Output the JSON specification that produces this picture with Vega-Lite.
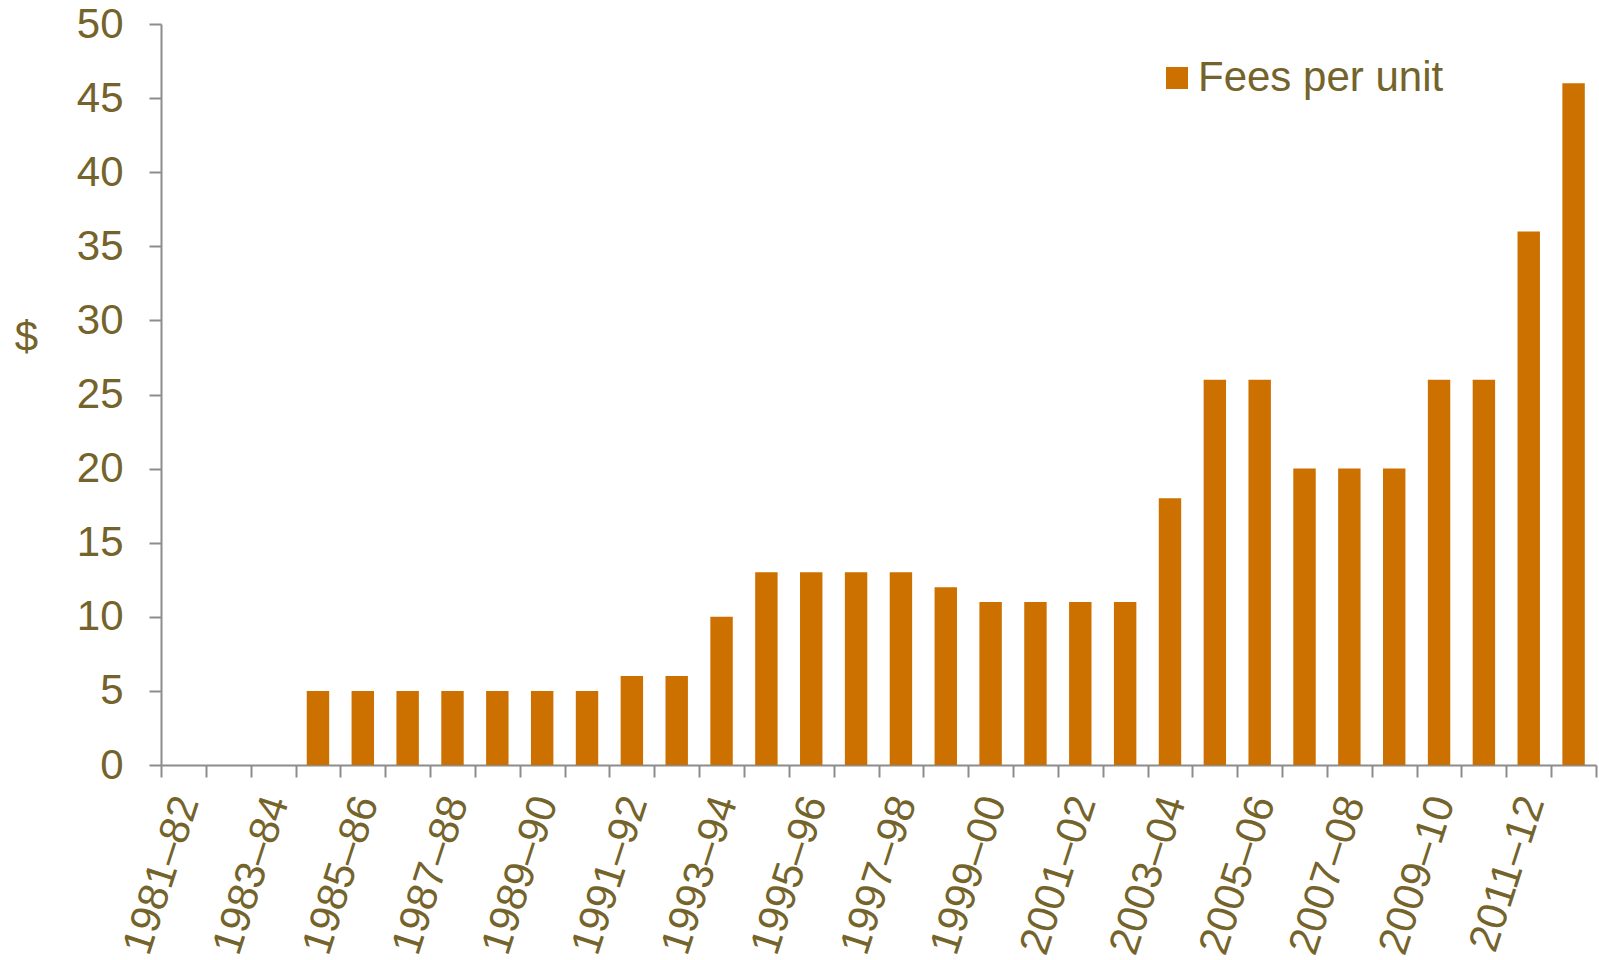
{
  "$schema": "https://vega.github.io/schema/vega-lite/v6.json",
  "width": 1435,
  "height": 741,
  "autosize": "none",
  "padding": {"left": 161, "top": 24, "right": 3, "bottom": 195},
  "background": "white",
  "config": {
    "view": {"stroke": null},
    "font": "Liberation Sans",
    "axis": {"grid": false, "domainColor": "#8c8c8c", "domainWidth": 2, "tickColor": "#8c8c8c", "tickWidth": 2, "tickSize": 12, "labelColor": "#74632A", "titleColor": "#74632A", "labelFont": "Liberation Sans", "titleFont": "Liberation Sans"}
  },
  "data": {"values": [
    {"year": "1981–82", "fee": 0}, {"year": "1982–83", "fee": 0}, {"year": "1983–84", "fee": 0},
    {"year": "1984–85", "fee": 5}, {"year": "1985–86", "fee": 5}, {"year": "1986–87", "fee": 5},
    {"year": "1987–88", "fee": 5}, {"year": "1988–89", "fee": 5}, {"year": "1989–90", "fee": 5},
    {"year": "1990–91", "fee": 5}, {"year": "1991–92", "fee": 6}, {"year": "1992–93", "fee": 6},
    {"year": "1993–94", "fee": 10}, {"year": "1994–95", "fee": 13}, {"year": "1995–96", "fee": 13},
    {"year": "1996–97", "fee": 13}, {"year": "1997–98", "fee": 13}, {"year": "1998–99", "fee": 12},
    {"year": "1999–00", "fee": 11}, {"year": "2000–01", "fee": 11}, {"year": "2001–02", "fee": 11},
    {"year": "2002–03", "fee": 11}, {"year": "2003–04", "fee": 18}, {"year": "2004–05", "fee": 26},
    {"year": "2005–06", "fee": 26}, {"year": "2006–07", "fee": 20}, {"year": "2007–08", "fee": 20},
    {"year": "2008–09", "fee": 20}, {"year": "2009–10", "fee": 26}, {"year": "2010–11", "fee": 26},
    {"year": "2011–12", "fee": 36}, {"year": "2012–13", "fee": 46}
  ]},
  "mark": {"type": "bar", "width": {"band": 0.5}},
  "encoding": {
    "x": {
      "field": "year", "type": "nominal", "sort": null,
      "scale": {"paddingInner": 0, "paddingOuter": 0},
      "axis": {
        "title": null, "tickBand": "extent", "labelAngle": -72, "labelAlign": "right", "labelBaseline": "middle",
        "labelFontSize": 42, "labelPadding": 20, "labelOverlap": false, "labelOffset": 3,
        "labelExpr": "toNumber(substring(datum.value,0,4)) % 2 === 1 ? datum.label : ''"
      }
    },
    "y": {
      "field": "fee", "type": "quantitative",
      "scale": {"domain": [0, 50]},
      "axis": {
        "title": "$", "titleAngle": 0, "titleFontSize": 42, "titleFontWeight": "normal", "titleX": -135, "titleY": 313,
        "titleAlign": "center", "titleBaseline": "middle",
        "values": [0, 5, 10, 15, 20, 25, 30, 35, 40, 45, 50],
        "labelFontSize": 42, "labelPadding": 26
      }
    },
    "color": {
      "datum": "Fees per unit", "type": "nominal",
      "scale": {"range": ["#CC7000"]},
      "legend": {
        "title": null, "orient": "none", "legendX": 995, "legendY": 33,
        "symbolType": "square", "symbolSize": 484, "symbolStrokeWidth": 0,
        "labelFontSize": 42, "labelColor": "#74632A", "labelOffset": 0, "labelLimit": 0, "padding": 0
      }
    }
  }
}
